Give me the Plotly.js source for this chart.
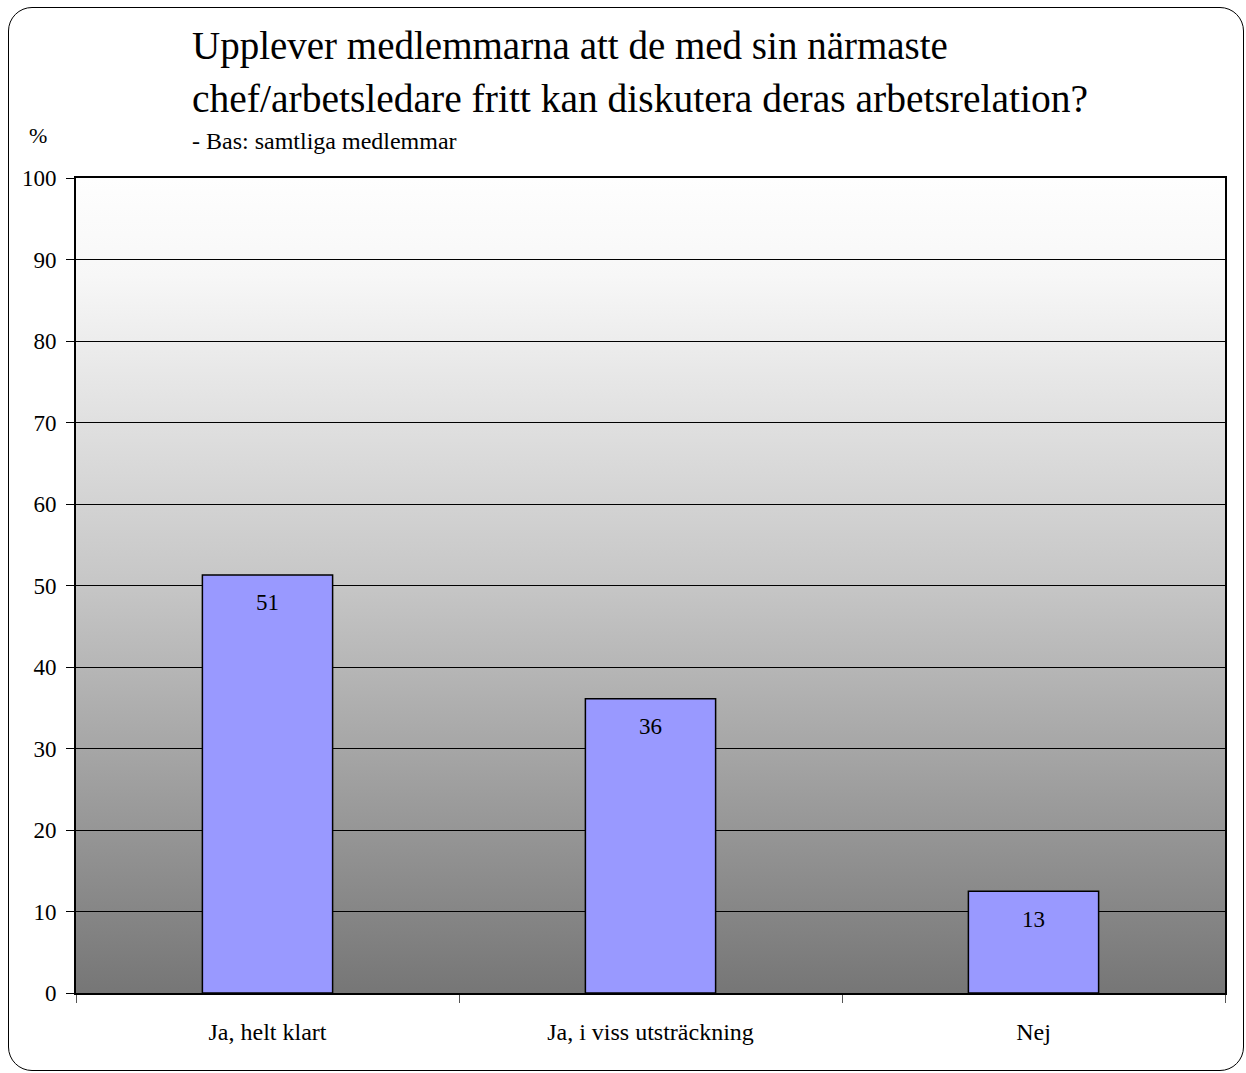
<!DOCTYPE html>
<html>
<head>
<meta charset="utf-8">
<script src="https://cdn.plot.ly/plotly-3.0.1.min.js"></script>
<style>
  html, body { margin: 0; padding: 0; background: #fff; }
  #wrap { position: relative; width: 1246px; height: 1073px; }
  #chart { position: absolute; left: 0; top: 0; width: 1246px; height: 1073px; }
  #frame { position: absolute; left: 8px; top: 7px; width: 1236px; height: 1064px;
           border: 1.3px solid #000; border-radius: 24px; pointer-events: none; box-sizing: border-box; }
</style>
</head>
<body>
<div id="wrap">
  <div id="chart"></div>
  <div id="frame"></div>
</div>
<script>
const categories = ["Ja, helt klart", "Ja, i viss utsträckning", "Nej"];
const values = [51.3, 36.1, 12.5];
const valueLabels = ["51", "36", "13"];
const yTicks = [0, 10, 20, 30, 40, 50, 60, 70, 80, 90, 100];
const titleLine1 = "Upplever medlemmarna att de med sin närmaste";
const titleLine2 = "chef/arbetsledare fritt kan diskutera deras arbetsrelation?";
const subtitle = "- Bas: samtliga medlemmar";
const yUnit = "%";

const serif = "'Liberation Serif', 'Times New Roman', Times, serif";

const gradSvg = '<svg xmlns="http://www.w3.org/2000/svg" width="100" height="100" preserveAspectRatio="none">' +
  '<defs><linearGradient id="g" x1="0" y1="0" x2="0" y2="1">' +
  '<stop offset="0" stop-color="#fefefe"/>' +
  '<stop offset="0.12" stop-color="#f7f7f7"/>' +
  '<stop offset="0.5" stop-color="#c6c6c6"/>' +
  '<stop offset="1" stop-color="#767676"/>' +
  '</linearGradient></defs><rect width="100" height="100" fill="url(#g)"/></svg>';
const gradUri = "data:image/svg+xml;base64," + btoa(gradSvg);

const trace = {
  type: "bar",
  x: categories,
  y: values,
  marker: { color: "#9999ff", line: { color: "#000", width: 1.5 } },
  hoverinfo: "x+y"
};

const valueAnnotations = categories.map((c, i) => ({
  x: c, y: values[i], xref: "x", yref: "y", text: valueLabels[i],
  showarrow: false, yshift: -28, xanchor: "center", yanchor: "middle",
  font: { family: serif, size: 23, color: "#000" }
}));

const layout = {
  width: 1246,
  height: 1073,
  margin: { l: 76, r: 21, t: 178, b: 80 },
  paper_bgcolor: "rgba(0,0,0,0)",
  plot_bgcolor: "rgba(0,0,0,0)",
  showlegend: false,
  bargap: 0.66,
  font: { family: serif, size: 20, color: "#000" },
  xaxis: {
    type: "category",
    showline: true, linecolor: "#000", linewidth: 2, mirror: true,
    ticks: "outside", tickson: "boundaries", ticklen: 8, tickcolor: "#555", tickwidth: 1,
    showgrid: false,
    tickfont: { family: serif, size: 24, color: "#000" },
    ticklabelstandoff: 16
  },
  yaxis: {
    range: [0, 100],
    tickvals: yTicks,
    showline: true, linecolor: "#000", linewidth: 2, mirror: true,
    ticks: "outside", ticklen: 8, tickcolor: "#000", tickwidth: 1,
    showgrid: true, gridcolor: "#000", gridwidth: 1,
    zeroline: false,
    tickfont: { family: serif, size: 23, color: "#000" },
    ticklabelstandoff: 5
  },
  images: [{
    source: gradUri, xref: "paper", yref: "paper", x: 0, y: 1, sizex: 1, sizey: 1,
    sizing: "stretch", xanchor: "left", yanchor: "top", layer: "below"
  }],
  annotations: [
    { text: titleLine1, xref: "paper", yref: "paper", x: 0.101, xshift: -2, y: 1, yshift: 132,
      xanchor: "left", yanchor: "middle", showarrow: false,
      font: { family: serif, size: 39, color: "#000" } },
    { text: titleLine2, xref: "paper", yref: "paper", x: 0.101, xshift: -2, y: 1, yshift: 79,
      xanchor: "left", yanchor: "middle", showarrow: false,
      font: { family: serif, size: 39.5, color: "#000" } },
    { text: subtitle, xref: "paper", yref: "paper", x: 0.101, xshift: -2, y: 1, yshift: 37,
      xanchor: "left", yanchor: "middle", showarrow: false,
      font: { family: serif, size: 24, color: "#000" } },
    { text: yUnit, xref: "paper", yref: "paper", x: 0, xshift: -38, y: 1, yshift: 43,
      xanchor: "center", yanchor: "middle", showarrow: false,
      font: { family: serif, size: 22, color: "#000" } }
  ].concat(valueAnnotations)
};

Plotly.newPlot("chart", [trace], layout, { displayModeBar: false, staticPlot: true });
</script>
</body>
</html>
